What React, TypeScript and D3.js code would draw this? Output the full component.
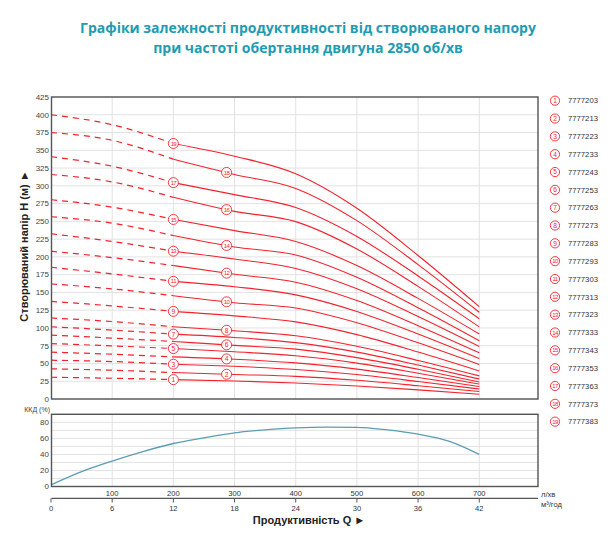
import React from "react";
import * as d3 from "d3";

const titleLines = [
  "Графіки залежності продуктивності від створюваного напору",
  "при частоті обертання двигуна 2850 об/хв",
];
const flowPoints = [0, 100, 200, 300, 400, 500, 600, 700]; // л/хв
const headCurves: number[][] = [
  [30.6, 29.2, 27.3, 25.4, 22.6, 18.4, 12.8, 6.6],
  [42.4, 40.5, 37.2, 34.5, 31.8, 26.3, 18.7, 10.5],
  [54.6, 52.7, 49.0, 46.0, 41.5, 34.4, 24.6, 14.0],
  [66.0, 63.0, 59.3, 56.0, 50.8, 42.1, 30.3, 17.5],
  [78.0, 74.8, 71.0, 66.4, 60.8, 50.5, 36.3, 21.0],
  [90.0, 85.7, 81.0, 75.5, 70.2, 58.2, 41.8, 24.0],
  [101.7, 97.0, 91.3, 86.6, 79.3, 66.0, 47.8, 28.0],
  [114.0, 109.0, 101.7, 96.0, 88.9, 74.2, 54.2, 32.5],
  [137.4, 131.0, 123.3, 117.0, 108.5, 90.6, 66.1, 39.5],
  [162.0, 155.0, 145.4, 135.5, 128.0, 107.3, 79.1, 48.5],
  [185.4, 176.0, 165.6, 158.0, 146.5, 123.2, 91.5, 57.0],
  [208.0, 199.0, 187.8, 175.5, 164.3, 138.5, 103.2, 65.0],
  [232.5, 221.7, 208.0, 197.0, 183.7, 155.2, 116.2, 74.0],
  [256.5, 247.5, 230.0, 214.0, 202.6, 171.2, 128.4, 82.0],
  [280.5, 270.0, 252.7, 237.0, 221.6, 187.8, 141.6, 91.5],
  [316.0, 305.5, 283.8, 264.0, 249.6, 211.1, 158.5, 101.5],
  [341.0, 327.6, 304.5, 287.6, 269.4, 228.7, 173.2, 113.0],
  [375.0, 364.0, 337.5, 316.0, 296.3, 251.0, 189.1, 122.0],
  [400.0, 386.0, 359.6, 341.7, 317.0, 268.4, 202.0, 130.0],
];
const modelCodes = [
  "7777203", "7777213", "7777223", "7777233", "7777243", "7777253", "7777263",
  "7777273", "7777283", "7777293", "7777303", "7777313", "7777323", "7777333",
  "7777343", "7777353", "7777363", "7777373", "7777383",
];
const effFlow = [0, 50, 100, 150, 200, 250, 300, 350, 400, 450, 500, 550, 600, 650, 700];
const effValues = [2, 18.5, 31.7, 43.5, 53.6, 60.6, 66.9, 70.5, 73, 74, 73.8, 70.5, 65.2, 56.5, 40];
const headTicks = d3.range(0, 426, 25);
const effTicks = [0, 20, 40, 60, 80];
const effGrid = d3.range(0, 91, 10);
const flowTicksLpm = [100, 200, 300, 400, 500, 600, 700];
const flowTicksM3 = [0, 6, 12, 18, 24, 30, 36, 42];

const RED = "#f5222d";
const TEAL = "#1d9cb2";
const EFF = "#5b9db4";
const GRID = "#e2e2e2";
const BORDER = "#555";
const FONT = "'Liberation Sans', Arial, sans-serif";

export default function App() {
  const left = 51.5;
  const right = 538;
  const x = d3.scaleLinear().domain([0, 796]).range([51, 538]);
  const y = d3.scaleLinear().domain([0, 425]).range([399, 97]);
  const ye = d3.scaleLinear().domain([0, 90]).range([486.5, 414.3]);

  const line = d3
    .line<[number, number]>()
    .x((d) => x(d[0]))
    .y((d) => y(d[1]))
    .curve(d3.curveMonotoneX);
  const effLine = d3
    .line<[number, number]>()
    .x((d) => x(d[0]))
    .y((d) => ye(d[1]))
    .curve(d3.curveMonotoneX);

  const effPts: [number, number][] = effFlow.map((q, i) => [q, effValues[i]]);

  const evenLabelQ = 287;

  return (
    <svg
      width={616}
      height={538}
      style={{ position: "absolute", left: 0, top: 0, background: "#fff" }}
      fontFamily={FONT}
    >
      <defs>
        <clipPath id="topClip">
          <rect x={left} y={97} width={right - left} height={399 - 97} />
        </clipPath>
      </defs>
      {titleLines.map((t, i) => (
        <text
          key={i}
          x={308}
          y={33 + i * 20}
          textAnchor="middle"
          fontFamily="'Open Sans', sans-serif"
          fontWeight="bold"
          fontSize={14}
          fill={TEAL}
        >
          {t}
        </text>
      ))}

      {/* top panel grid */}
      {headTicks.map((t) => (
        <line key={"hg" + t} x1={left} x2={right} y1={y(t)} y2={y(t)} stroke={GRID} strokeWidth={1} />
      ))}
      {flowTicksLpm.map((t) => (
        <line key={"vg" + t} x1={x(t)} x2={x(t)} y1={97} y2={399} stroke={GRID} strokeWidth={1} />
      ))}
      {headTicks.map((t) => (
        <text key={"hl" + t} x={49} y={y(t)} dy="0.35em" textAnchor="end" fontSize={8} fill="#444">
          {t}
        </text>
      ))}

      {/* head curves */}
      <g clipPath="url(#topClip)">
        {headCurves.map((vals, k) => {
          const pts: [number, number][] = flowPoints.map((q, i) => [q, vals[i]]);
          const dashed = pts.filter((p) => p[0] <= 200);
          const solid = pts.filter((p) => p[0] >= 200);
          return (
            <g key={"c" + k}>
              <path d={line(dashed) || ""} fill="none" stroke={RED} strokeWidth={1.2} strokeDasharray="6,5" />
              <path d={line(solid) || ""} fill="none" stroke={RED} strokeWidth={1.1} />
            </g>
          );
        })}
      </g>
      {headCurves.map((vals, k) => {
        const n = k + 1;
        const odd = n % 2 === 1;
        const q = odd ? 200 : evenLabelQ;
        const i0 = 2;
        const t = (q - flowPoints[i0]) / (flowPoints[i0 + 1] - flowPoints[i0]);
        const h = vals[i0] + (vals[i0 + 1] - vals[i0]) * t;
        return (
          <g key={"lab" + k} transform={`translate(${x(q)},${y(h)})`}>
            <circle r={5} fill="#fff" stroke={RED} strokeWidth={0.9} />
            <text
              textAnchor="middle"
              dy="0.36em"
              fontSize={n >= 10 ? 6 : 6.8}
              letterSpacing={n >= 10 ? -0.6 : 0}
              fill={RED}
            >
              {n}
            </text>
          </g>
        );
      })}
      <rect x={left} y={97} width={right - left} height={399 - 97} fill="none" stroke={BORDER} strokeWidth={1.4} />

      <text
        transform="translate(24,246) rotate(-90)"
        textAnchor="middle"
        dy="0.35em"
        fontWeight="bold"
        fontSize={11}
        fill="#222"
      >
        Створюваний напір H (м) ►
      </text>

      {/* efficiency panel */}
      {effGrid.map((t) => (
        <line key={"eg" + t} x1={left} x2={right} y1={ye(t)} y2={ye(t)} stroke={GRID} strokeWidth={1} />
      ))}
      {flowTicksLpm.map((t) => (
        <line key={"evg" + t} x1={x(t)} x2={x(t)} y1={414.3} y2={486.5} stroke={GRID} strokeWidth={1} />
      ))}
      {effTicks.map((t) => (
        <text key={"el" + t} x={49} y={ye(t)} dy="0.35em" textAnchor="end" fontSize={8} fill="#444">
          {t}
        </text>
      ))}
      <text x={50} y={411.5} textAnchor="end" fontSize={7} fill="#444">
        ККД (%)
      </text>
      <path d={effLine(effPts) || ""} fill="none" stroke={EFF} strokeWidth={1.3} />
      <rect x={left} y={414.3} width={right - left} height={486.5 - 414.3} fill="none" stroke={BORDER} strokeWidth={1.4} />

      {/* bottom axes */}
      {flowTicksLpm.map((t) => (
        <text key={"xl" + t} x={x(t)} y={493.5} dy="0.35em" textAnchor="middle" fontSize={7.6} fill="#333">
          {t}
        </text>
      ))}
      <line x1={left} x2={right} y1={498.3} y2={498.3} stroke={BORDER} strokeWidth={1.2} />
      {flowTicksM3.map((t, i) => (
        <g key={"m3" + t}>
          <line x1={x(i * 100)} x2={x(i * 100)} y1={498.3} y2={502.5} stroke={BORDER} strokeWidth={1} />
          <text x={x(i * 100)} y={508} dy="0.35em" textAnchor="middle" fontSize={7.6} fill="#333">
            {t}
          </text>
        </g>
      ))}
      <text x={541} y={494} dy="0.35em" fontSize={7.6} fill="#333">
        л/хв
      </text>
      <text x={541} y={504.5} dy="0.35em" fontSize={7.6} fill="#333">
        м³/год
      </text>
      <text x={309} y={520} dy="0.35em" textAnchor="middle" fontWeight="bold" fontSize={11} fill="#222">
        Продуктивність  Q ►
      </text>

      {/* legend */}
      {modelCodes.map((code, k) => {
        const n = k + 1;
        const cy = 100.7 + k * 17.83;
        return (
          <g key={"lg" + k}>
            <circle cx={555} cy={cy} r={4.6} fill="#fff" stroke={RED} strokeWidth={0.9} />
            <text
              x={555}
              y={cy}
              dy="0.36em"
              textAnchor="middle"
              fontSize={n >= 10 ? 6 : 6.6}
              letterSpacing={n >= 10 ? -0.6 : 0}
              fill={RED}
            >
              {n}
            </text>
            <text x={568} y={cy} dy="0.35em" fontSize={7.7} fill="#333">
              {code}
            </text>
          </g>
        );
      })}
    </svg>
  );
}
